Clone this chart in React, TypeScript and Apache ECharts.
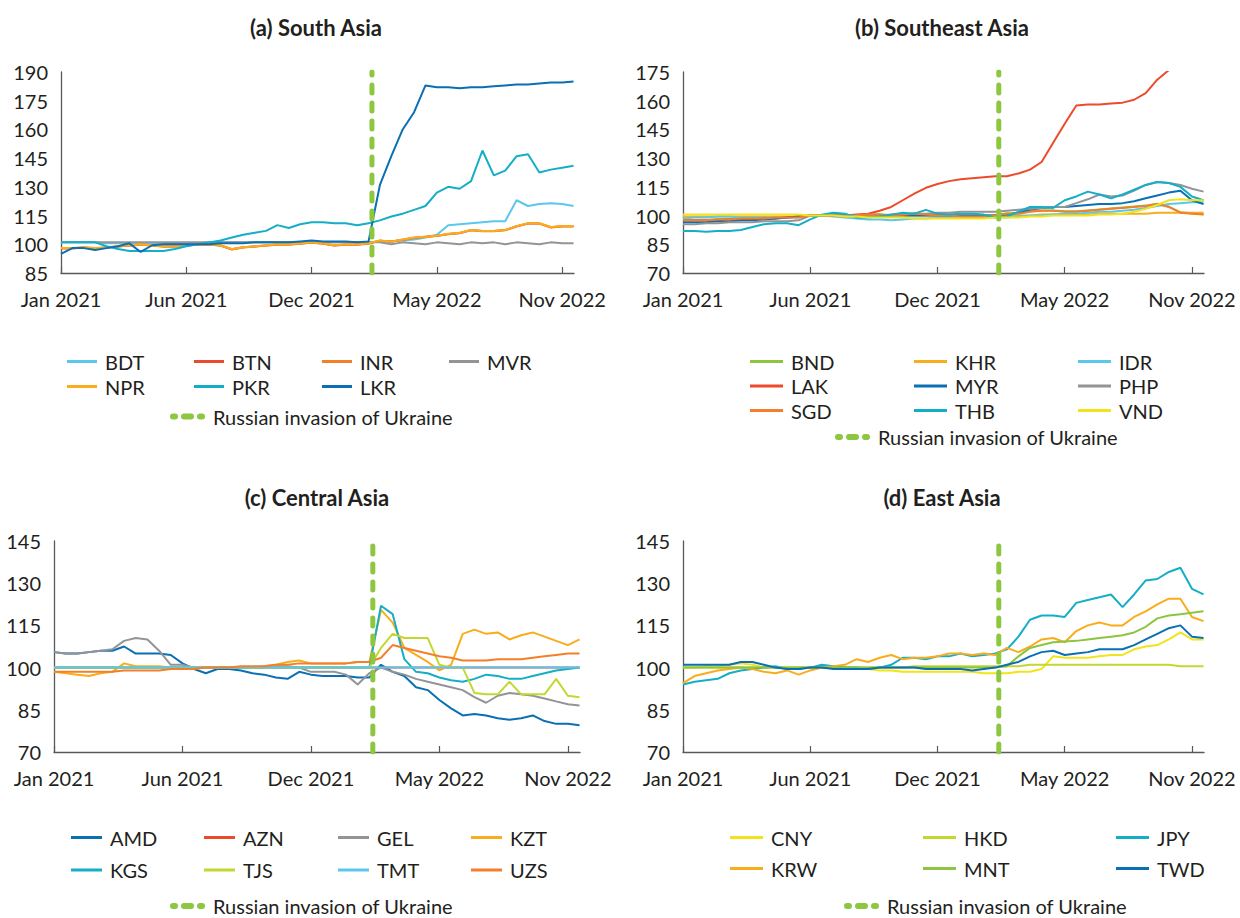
import React, { useEffect, useRef } from "react";
import * as echarts from "echarts";

// ---------- shared x grid (months since Jan 2021, semi-monthly points) ----------
const T = [0, 0.5, 1, 1.5, 2, 2.5, 3, 3.5, 4, 4.5, 5, 5.5, 6, 6.5, 7, 7.5, 8, 8.5, 9, 9.5, 10, 10.5, 11, 11.5, 12, 12.5, 13, 13.5, 14, 14.5, 15, 15.5, 16, 16.5, 17, 17.5, 18, 18.5, 19, 19.5, 20, 20.5, 21, 21.5, 22, 22.5];
const X_TICKS = [0, 5.5, 11, 16.5, 22];
const X_LABELS = ["Jan 2021", "Jun 2021", "Dec 2021", "May 2022", "Nov 2022"];
const X_MAX = 22.52;
const INVASION = 13.65;
const INVASION_NAME = "Russian invasion of Ukraine";

const Y_TICKS_A = [85, 100, 115, 130, 145, 160, 175, 190];
const Y_TICKS_B = [70, 85, 100, 115, 130, 145, 160, 175];
const Y_TICKS_C = [70, 85, 100, 115, 130, 145];
const Y_TICKS_D = [70, 85, 100, 115, 130, 145];

// ---------- (a) South Asia ----------
const BDT = [101, 101, 101, 101, 100.5, 100.5, 100.5, 100.5, 100.5, 100.5, 100.5, 100.5, 100.5, 101, 101, 101, 101, 101, 101, 101, 101, 101, 101, 101, 101, 101, 101, 101, 101.5, 101.5, 102, 102.5, 103.5, 105, 110, 110.5, 111, 111.5, 112, 112, 123, 120, 121, 121.5, 121, 120];
const BTN = [97.9, 97.9, 98.3, 97.9, 98.3, 98.9, 99.4, 99.9, 99.4, 98.9, 98.9, 99.4, 99.9, 99.9, 99.4, 97.4, 98.4, 98.9, 99.4, 99.9, 99.9, 100.4, 100.9, 100.4, 99.4, 99.9, 99.9, 100.4, 101.9, 101.4, 102.4, 103.4, 103.9, 104.4, 105.4, 105.9, 107.4, 106.9, 106.9, 107.4, 109.4, 110.9, 110.9, 108.9, 109.4, 109.4];
const INR = [97.8, 97.8, 98.3, 97.8, 98.3, 98.8, 99.3, 99.8, 99.3, 98.8, 98.8, 99.3, 99.8, 99.8, 99.3, 97.3, 98.3, 98.8, 99.3, 99.8, 99.8, 100.3, 100.8, 100.3, 99.3, 99.8, 99.8, 100.3, 101.8, 101.3, 102.3, 103.3, 103.8, 104.3, 105.3, 105.8, 107.3, 106.8, 106.8, 107.3, 109.3, 110.8, 110.8, 108.8, 109.3, 109.3];
const MVR = [101, 101, 101, 101, 101, 101, 101, 101, 101, 101, 101, 101, 101, 101, 101, 101, 101, 101, 101, 101, 101, 101, 101, 101, 101, 101, 101, 101, 101, 100, 101, 100.5, 100, 101, 100.5, 100, 101, 100.5, 101, 100, 101, 100.5, 100, 101, 100.5, 100.5];
const NPR = [98, 98, 98.5, 98, 98.5, 99, 99.5, 100, 99.5, 99, 99, 99.5, 100, 100, 99.5, 97.5, 98.5, 99, 99.5, 100, 100, 100.5, 101, 100.5, 99.5, 100, 100, 100.5, 102, 101.5, 102.5, 103.5, 104, 104.5, 105.5, 106, 107.5, 107, 107, 107.5, 109.5, 111, 111, 109, 109.5, 109.5];
const PKR = [101, 101, 101, 101, 99, 97.5, 96.5, 96.5, 96.5, 96.5, 97.5, 99, 100, 101, 102, 103.5, 105, 106, 107, 110, 108.5, 110.5, 111.5, 111.5, 111, 111, 110, 111, 112.5, 114.5, 116, 118, 120, 127, 130, 129, 133, 149, 136, 138.5, 146, 147, 137.5, 139, 140, 141];
const LKR = [95, 98, 98, 97, 98, 99, 100.5, 96, 99.5, 100, 100, 100, 100, 100, 100.5, 100.5, 100.5, 101, 101, 101, 101, 101.5, 102, 101.5, 101.5, 101.5, 101, 101.5, 131, 146, 160, 169, 183, 182, 182, 181.5, 182, 182, 182.5, 183, 183.5, 183.5, 184, 184.5, 184.5, 185];

// ---------- (b) Southeast Asia ----------
const BND = [97.7, 97.7, 97.7, 98.2, 98.2, 98.7, 98.7, 98.7, 99.2, 99.2, 99.2, 100, 100, 100, 99.7, 100.2, 100.7, 100.7, 100.2, 100.7, 101.2, 100.7, 100.2, 100.2, 99.7, 99.7, 99.7, 100.2, 101.2, 101.2, 102.2, 102.7, 102.7, 102.2, 102.2, 102.7, 103.2, 103.7, 104.2, 104.7, 105.2, 106.2, 104.7, 101.7, 101.2, 100.7];
const KHR = [99.5, 99.5, 99.5, 99.5, 99.5, 99.5, 99.5, 99.5, 99.5, 99.5, 99.5, 100, 100, 100, 100, 100, 100, 100, 100, 100, 100, 100, 100, 100, 100, 100, 100, 100, 100, 100, 100, 100.5, 100.5, 100.5, 100.5, 100.5, 101, 101, 101, 101, 101, 101.5, 101.5, 101.5, 101.5, 101.5];
const IDR = [98.5, 99, 99, 99.5, 99.5, 99, 99, 99, 99, 99, 99, 100, 100, 99.5, 99, 98.5, 98, 98, 97.5, 98, 98.5, 98.5, 99, 99, 99, 99, 99, 99, 99, 99.5, 100, 100, 100.5, 101, 101, 101.5, 102, 102, 102.5, 103, 104, 105, 106, 106.5, 107, 107];
const LAK = [97.5, 97.5, 97.5, 97.5, 98, 98, 98, 98.5, 98.5, 99, 99.5, 100, 100, 100, 100, 100.5, 101, 102.5, 104.5, 108, 111.5, 114.5, 116.5, 118, 119, 119.5, 120, 120.5, 120.5, 122, 124, 128, 138, 148, 157.5, 158, 158, 158.5, 159, 160.5, 164, 171, 176, 180, 183, 185];
const MYR = [96.5, 96.5, 96.5, 97, 97, 97.5, 97.5, 98, 98.5, 99, 99.5, 100, 100, 100, 100, 100, 100, 100, 100, 100, 100, 100, 100, 100, 100, 100, 100, 100, 100.5, 101.5, 103, 104, 104.5, 104.5, 105, 105.5, 106, 106, 106.5, 107.5, 109, 110.5, 112, 113, 108, 106];
const PHP = [95.5, 95.5, 96, 96, 96.5, 96.5, 96.5, 97, 97, 97, 97.5, 100, 100, 100, 100, 100, 100, 100, 100.5, 100.5, 101, 101, 101.5, 101.5, 102, 102, 102, 102, 102.5, 103, 103.5, 104, 104.5, 104.5, 106.5, 108.5, 111, 110, 110.5, 113, 116, 117.5, 117, 116, 114, 112.5];
const SGD = [97.5, 97.5, 97.5, 98, 98, 98.5, 98.5, 98.5, 99, 99, 99, 100, 100, 100, 99.5, 100, 100.5, 100.5, 100, 100.5, 101, 100.5, 100, 100, 99.5, 99.5, 99.5, 100, 101, 101, 102, 102.5, 102.5, 102, 102, 102.5, 103, 103.5, 104, 104.5, 105, 106, 104.5, 101.5, 101, 100.5];
const THB = [92, 92, 91.5, 92, 92, 92.5, 94, 95.5, 96, 96, 95, 98, 100.5, 101.5, 101, 99, 99, 99.5, 100.5, 101.5, 101, 103, 101, 100.5, 101, 101, 100.5, 99, 99.5, 102, 104.5, 104.5, 104, 108, 110, 112.5, 111, 109, 111, 113.5, 116, 117.5, 117, 115, 110, 108];
const VND = [100.5, 100.5, 100.5, 100.5, 100.5, 100.5, 100.5, 100.5, 100.5, 100.5, 100.5, 100, 100, 100, 99.5, 99.5, 99, 99, 99, 99, 98.5, 98.5, 98.5, 98.5, 98.5, 98.5, 98.5, 99, 99, 99, 99.5, 99.5, 100, 100, 100, 100, 100.5, 100.5, 101, 102, 103.5, 105.5, 108, 108.5, 108, 108];

// ---------- (c) Central Asia ----------
const AMD = [105.5, 105, 105, 105.5, 106, 106, 107.5, 105, 105, 105, 104.5, 101.5, 99.5, 98, 99.5, 99.5, 99, 98, 97.5, 96.5, 96, 98.5, 97.5, 97, 97, 97, 96.5, 96.5, 101, 98.5, 97, 93, 92, 88.5, 85.5, 83, 83.5, 83, 82, 81.5, 82, 83, 81, 80, 80, 79.5];
const AZN = [100, 100, 100, 100, 100, 100, 100, 100, 100, 100, 100, 100, 100, 100, 100, 100, 100, 100, 100, 100, 100, 100, 100, 100, 100, 100, 100, 100, 100, 100, 100, 100, 100, 100, 100, 100, 100, 100, 100, 100, 100, 100, 100, 100, 100, 100];
const GEL = [105.5, 105, 105, 105.5, 106, 106.5, 109.5, 110.5, 110, 106, 101, 101, 100, 100, 100, 100, 100, 100, 100, 100.5, 100.5, 100, 98.5, 98.5, 98.5, 97.5, 94, 98, 100, 98.5, 97.5, 96, 95, 94, 93, 92, 89.5, 87.5, 90, 91, 90.5, 90, 89, 88, 87, 86.5];
const KZT = [98.5, 98, 97.5, 97, 98, 98.5, 101.5, 100.5, 100.5, 100.5, 100, 100, 100, 100, 100, 100, 100, 100, 100.5, 101, 102, 102.5, 101.5, 101.5, 101.5, 101.5, 102, 102, 120.5, 116, 107, 104.5, 102, 99, 101, 112, 113.5, 112, 112.5, 110, 111.5, 112.5, 111, 109.5, 108, 110];
const KGS = [100, 100, 100, 100, 100, 100, 100, 100, 100, 100, 100, 100, 100, 100, 100, 100, 100, 100, 100, 100, 100, 100, 100, 100, 100, 100, 100, 100, 122, 119, 103, 98.5, 98, 96.5, 95.5, 95, 96, 97.5, 97, 96, 96, 97, 98, 99, 99.5, 100];
const TJS = [100, 100, 100, 100, 100, 100, 100, 100, 100, 100, 100, 100, 100, 100, 100, 100, 100, 100, 100, 100, 100, 100, 100, 100, 100, 100, 100, 100, 107, 112, 110.5, 110.5, 110.5, 101, 100, 100, 91, 90.5, 90.5, 95, 90.5, 90.5, 90.5, 96, 90, 89.5];
const TMT = [100, 100, 100, 100, 100, 100, 100, 100, 100, 100, 100, 100, 100, 100, 100, 100, 100, 100, 100, 100, 100, 100, 100, 100, 100, 100, 100, 100, 100, 100, 100, 100, 100, 100, 100, 100, 100, 100, 100, 100, 100, 100, 100, 100, 100, 100];
const UZS = [98.5, 98.5, 98.5, 98.5, 98.5, 98.5, 99, 99, 99, 99, 99.5, 99.5, 99.5, 100, 100, 100, 100.5, 100.5, 100.5, 101, 101, 101.5, 101.5, 101.5, 101.5, 101.5, 102, 102, 103.5, 108, 107, 106, 105, 104, 103.5, 102.5, 102.5, 102.5, 103, 103, 103, 103.5, 104, 104.5, 105, 105];

// ---------- (d) East Asia ----------
const CNY = [100, 100, 100.5, 100.5, 101, 101.5, 101, 100, 100, 100, 100, 100, 100, 100, 100, 100, 99.5, 99, 99, 98.5, 98.5, 98.5, 98.5, 98.5, 98.5, 98.5, 98, 98, 98, 98.5, 98.5, 99.5, 104, 103.5, 103.5, 103.5, 104, 104.5, 104.5, 106.5, 107.5, 108, 110, 112.5, 110, 110];
const HKD = [100, 100, 100, 100, 100, 100, 100, 100, 100, 100, 100, 100, 100, 100, 100, 100, 100, 100, 100, 100, 100.5, 100.5, 100.5, 100.5, 100.5, 100.5, 100.5, 100.5, 100.5, 100.5, 101, 101, 101, 101, 101, 101, 101, 101, 101, 101, 101, 101, 101, 100.5, 100.5, 100.5];
const JPY = [94, 95, 95.5, 96, 98, 99, 99.5, 100, 100.5, 99.5, 99.5, 100, 101, 100.5, 100, 100, 99.5, 100, 101, 103.5, 103.5, 103, 104, 104, 105, 104, 104.5, 105, 106.5, 111, 117, 118.5, 118.5, 118, 123, 124, 125, 126, 121.5, 126, 131, 131.5, 134, 135.5, 128, 126];
const KRW = [94.5, 97, 98, 99, 99.5, 100, 99.5, 98.5, 98, 99, 97.5, 99, 100, 100.5, 101, 103, 102, 103.5, 104.5, 103, 103.5, 103.5, 104, 105, 105, 104.5, 105, 104.5, 107, 105.5, 107.5, 110, 110.5, 109, 113, 115, 116, 115, 115, 118, 120, 122.5, 124.5, 124.5, 118, 116.5];
const MNT = [100, 100, 100, 100, 100, 100, 100, 100, 100, 100, 100, 100, 100, 100, 100, 100, 100, 100, 100, 100, 100, 100, 100, 100, 100, 100, 100, 100, 100.5, 104, 107, 108, 109, 109.3, 109.5, 110, 110.5, 111, 111.5, 112.5, 114.5, 117.5, 118.5, 119, 119.5, 120];
const TWD = [101, 101, 101, 101, 101, 102, 102, 101, 100, 99.5, 99.5, 100, 100, 99.5, 99.5, 99.5, 99.5, 100, 100, 100, 100, 99.5, 99.5, 99.5, 99.5, 99, 99.5, 100, 101, 102, 104, 105.5, 106, 104.5, 105, 105.5, 106.5, 106.5, 106.5, 108, 110, 112, 114, 115, 111, 110.5];

// ---------- styles ----------
const FONT = 'Lato, "Noto Sans", sans-serif';
const TEXT = "#231f20";
const AXIS = "#58595b";
const C_DARKBLUE = "#0b6fb3";
const C_TEAL = "#15aec7";
const C_LIGHTBLUE = "#5cc7ee";
const C_RED = "#ec4b2b";
const C_ORANGE = "#f47f2a";
const C_AMBER = "#f9ac1c";
const C_GRAY = "#929497";
const C_GREEN = "#8cc53f";
const C_YGREEN = "#c4d630";
const C_YELLOW = "#f2e41a";
const C_INVASION = "#8dc63f";
const DASH_ICON =
  "path://M3,0H5A3,3,0,0,1,5,6H3A3,3,0,0,1,3,0ZM14,0H21A3,3,0,0,1,21,6H14A3,3,0,0,1,14,0ZM30,0H32A3,3,0,0,1,32,6H30A3,3,0,0,1,30,0Z";

type SeriesDef = [string, number[], string];
interface Panel {
  title: string;
  titleX: number;
  titleY: number;
  grid: { left: number; top: number; width: number; height: number };
  yTicks: number[];
  series: SeriesDef[];
  cols: string[][];
  colLefts: number[];
  legendTop: number;
  legendGap: number;
  iconW: number;
  dashLeft: number;
  dashTop: number;
}

const PANELS: Panel[] = [
  {
    title: "(a) South Asia",
    titleX: 316,
    titleY: 16,
    grid: { left: 61, top: 72, width: 513, height: 201 },
    yTicks: Y_TICKS_A,
    series: [
      ["BDT", BDT, C_LIGHTBLUE],
      ["BTN", BTN, C_RED],
      ["INR", INR, C_ORANGE],
      ["MVR", MVR, C_GRAY],
      ["NPR", NPR, C_AMBER],
      ["PKR", PKR, C_TEAL],
      ["LKR", LKR, C_DARKBLUE],
    ],
    cols: [["BDT", "NPR"], ["BTN", "PKR"], ["INR", "LKR"], ["MVR"]],
    colLefts: [67, 194, 322, 449],
    legendTop: 351.5,
    legendGap: 5,
    iconW: 30,
    dashLeft: 170,
    dashTop: 406.5,
  },
  {
    title: "(b) Southeast Asia",
    titleX: 942,
    titleY: 16,
    grid: { left: 683, top: 72, width: 521, height: 201 },
    yTicks: Y_TICKS_B,
    series: [
      ["BND", BND, C_GREEN],
      ["KHR", KHR, C_AMBER],
      ["IDR", IDR, C_LIGHTBLUE],
      ["LAK", LAK, C_RED],
      ["MYR", MYR, C_DARKBLUE],
      ["PHP", PHP, C_GRAY],
      ["SGD", SGD, C_ORANGE],
      ["THB", THB, C_TEAL],
      ["VND", VND, C_YELLOW],
    ],
    cols: [["BND", "LAK", "SGD"], ["KHR", "MYR", "THB"], ["IDR", "PHP", "VND"]],
    colLefts: [750, 914, 1078],
    legendTop: 351.5,
    legendGap: 4.5,
    iconW: 33,
    dashLeft: 835,
    dashTop: 427,
  },
  {
    title: "(c) Central Asia",
    titleX: 317,
    titleY: 486,
    grid: { left: 54, top: 541, width: 526, height: 211 },
    yTicks: Y_TICKS_C,
    series: [
      ["AMD", AMD, C_DARKBLUE],
      ["AZN", AZN, C_RED],
      ["GEL", GEL, C_GRAY],
      ["KZT", KZT, C_AMBER],
      ["KGS", KGS, C_TEAL],
      ["TJS", TJS, C_YGREEN],
      ["TMT", TMT, C_LIGHTBLUE],
      ["UZS", UZS, C_ORANGE],
    ],
    cols: [["AMD", "KGS"], ["AZN", "TJS"], ["GEL", "TMT"], ["KZT", "UZS"]],
    colLefts: [71, 204, 338, 471],
    legendTop: 827.5,
    legendGap: 12.5,
    iconW: 31,
    dashLeft: 170,
    dashTop: 896,
  },
  {
    title: "(d) East Asia",
    titleX: 942,
    titleY: 486,
    grid: { left: 683, top: 541, width: 521, height: 211 },
    yTicks: Y_TICKS_D,
    series: [
      ["CNY", CNY, C_YELLOW],
      ["HKD", HKD, C_YGREEN],
      ["JPY", JPY, C_TEAL],
      ["KRW", KRW, C_AMBER],
      ["MNT", MNT, C_GREEN],
      ["TWD", TWD, C_DARKBLUE],
    ],
    cols: [["CNY", "KRW"], ["HKD", "MNT"], ["JPY", "TWD"]],
    colLefts: [730, 923, 1116],
    legendTop: 827.5,
    legendGap: 11,
    iconW: 33,
    dashLeft: 844,
    dashTop: 896,
  },
];

const textStyle = { fontFamily: FONT, fontSize: 20, color: TEXT };

function buildOption() {
  const grid: any[] = [];
  const xAxis: any[] = [];
  const yAxis: any[] = [];
  const series: any[] = [];
  const legend: any[] = [];
  const title: any[] = [];

  PANELS.forEach((p, i) => {
    const yMin = p.yTicks[0];
    const yMax = p.yTicks[p.yTicks.length - 1];
    grid.push({ ...p.grid, containLabel: false });
    title.push({
      text: p.title,
      left: p.titleX,
      top: p.titleY,
      textAlign: "center",
      padding: 0,
      textStyle: { fontFamily: FONT, fontSize: 22, fontWeight: "bold", color: TEXT },
    });
    xAxis.push({
      type: "value",
      gridIndex: i,
      min: 0,
      max: X_MAX,
      interval: 5.5,
      axisLine: { show: true, lineStyle: { color: AXIS, width: 1.3 } },
      axisTick: { show: true, inside: true, length: 6, customValues: X_TICKS, lineStyle: { color: AXIS, width: 1.2 } },
      splitLine: { show: false },
      axisLabel: {
        ...textStyle,
        margin: 16,
        customValues: X_TICKS,
        formatter: (v: number) => {
          const k = X_TICKS.findIndex((t) => Math.abs(t - v) < 1e-6);
          return k >= 0 ? X_LABELS[k] : "";
        },
      },
    });
    yAxis.push({
      type: "value",
      gridIndex: i,
      min: yMin,
      max: yMax,
      axisLine: { show: true, lineStyle: { color: AXIS, width: 1.3 } },
      axisTick: { show: false, customValues: p.yTicks },
      splitLine: { show: false },
      axisLabel: { ...textStyle, margin: 13, customValues: p.yTicks },
    });
    p.series.forEach(([name, values, color]) => {
      series.push({
        type: "line",
        name,
        xAxisIndex: i,
        yAxisIndex: i,
        data: T.map((t, k) => [t, values[k]]),
        symbol: "none",
        showSymbol: false,
        color,
        lineStyle: { color, width: 2 },
        itemStyle: { color },
        z: 2,
      });
    });
    series.push({
      type: "line",
      name: INVASION_NAME,
      xAxisIndex: i,
      yAxisIndex: i,
      data: [
        [INVASION, yMin],
        [INVASION, yMax],
      ],
      symbol: "none",
      color: C_INVASION,
      lineStyle: { color: C_INVASION, width: 5, type: [8, 10], cap: "round" },
      itemStyle: { color: C_INVASION },
      z: 5,
    });
    p.cols.forEach((names, c) => {
      legend.push({
        data: names.map((n) => ({ name: n, icon: "rect" })),
        orient: "vertical",
        left: p.colLefts[c],
        top: p.legendTop,
        itemGap: p.legendGap,
        itemWidth: p.iconW,
        itemHeight: 3,
        padding: 0,
        selectedMode: false,
        itemStyle: { borderWidth: 0 },
        textStyle: { ...textStyle, lineHeight: 20, padding: [0, 0, 0, 3] },
      });
    });
    legend.push({
      data: [{ name: INVASION_NAME, icon: DASH_ICON }],
      orient: "horizontal",
      left: p.dashLeft,
      top: p.dashTop,
      itemWidth: 35,
      itemHeight: 6,
      padding: 0,
      selectedMode: false,
      itemStyle: { borderWidth: 0 },
      textStyle: { ...textStyle, lineHeight: 20, padding: [0, 0, 0, 3] },
    });
  });

  return {
    animation: false,
    backgroundColor: "#ffffff",
    title,
    grid,
    xAxis,
    yAxis,
    legend,
    series,
  };
}

export default function App() {
  const ref = useRef<HTMLDivElement>(null);
  useEffect(() => {
    if (!ref.current) return;
    const chart = echarts.init(ref.current, undefined, { renderer: "svg", width: 1240, height: 918 });
    chart.setOption(buildOption() as any);
    return () => chart.dispose();
  }, []);
  return (
    <div
      ref={ref}
      style={{ position: "fixed", left: 0, top: 0, width: 1240, height: 918, background: "#ffffff" }}
    />
  );
}
